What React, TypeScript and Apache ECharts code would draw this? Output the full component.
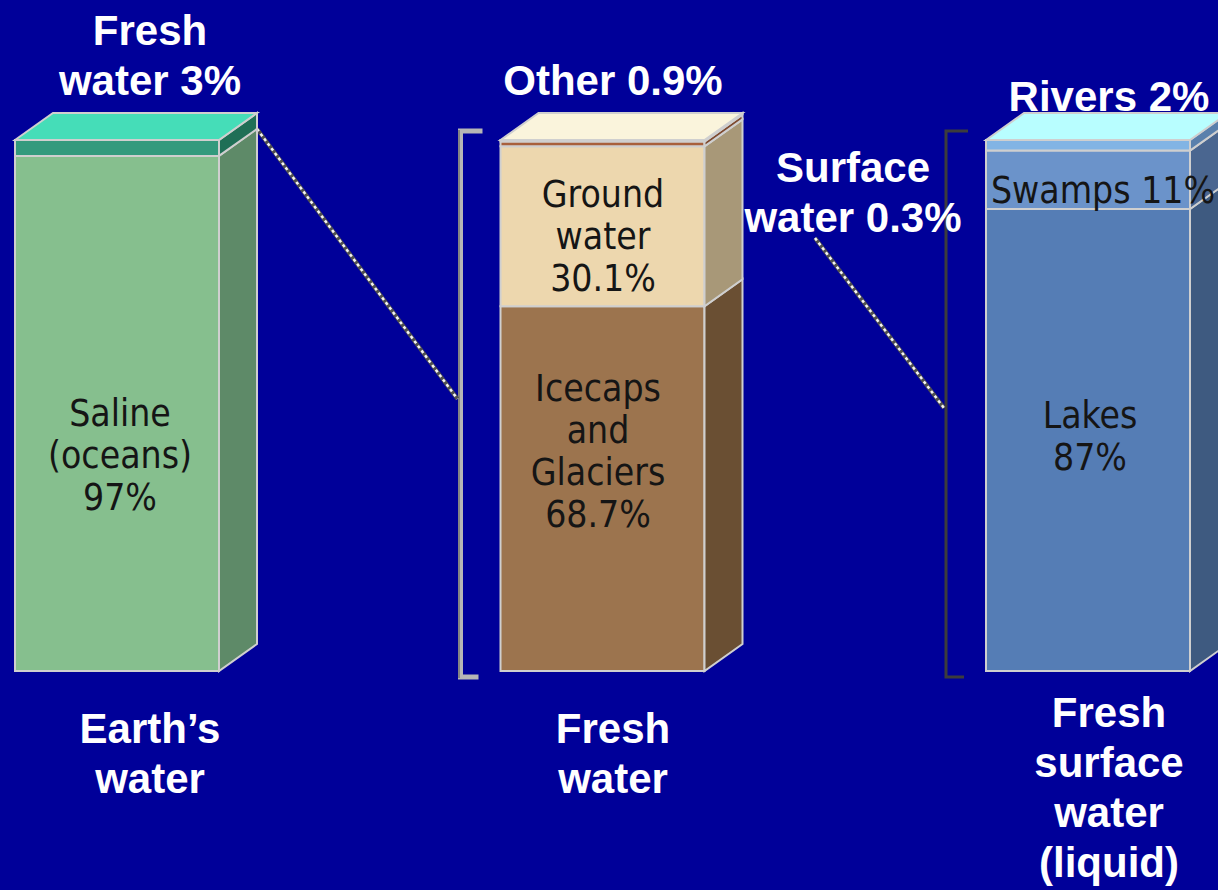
import React, { useEffect, useRef } from "react";
import * as echarts from "echarts";

// Columns
const barNames = ["Earth’s water", "Fresh water", "Fresh surface water (liquid)"];

// Earth's water, bottom to top
const earthWaterNames = ["Saline (oceans)", "Fresh water"];
const earthWaterValues = [97, 3];

// Fresh water, bottom to top
const freshWaterNames = ["Icecaps and Glaciers", "Ground water", "Other", "Surface water"];
const freshWaterValues = [68.7, 30.1, 0.9, 0.3];

// Fresh surface water (liquid), bottom to top
const surfaceWaterNames = ["Lakes", "Swamps", "Rivers"];
const surfaceWaterValues = [87, 11, 2];

// Face colours per segment: front, side, top
const earthWaterColors = [
  { front: "#86BF8E", side: "#5E8A68", top: "#A8D8B0" },
  { front: "#339A7D", side: "#1F6F56", top: "#45DDB8" },
];
const freshWaterColors = [
  { front: "#9C744E", side: "#6A4F33", top: "#B8906A" },
  { front: "#EDD7AE", side: "#A89878", top: "#F5E6C8" },
  { front: "#A8603C", side: "#7E4A30", top: "#C07A55" },
  { front: "#F3EBCF", side: "#D8CCAA", top: "#FAF4DC" },
];
const surfaceWaterColors = [
  { front: "#557DB5", side: "#3E5A80", top: "#7FA2D0" },
  { front: "#6B93CA", side: "#4A6690", top: "#90B4E0" },
  { front: "#82B4E4", side: "#5A80AC", top: "#B8FEFF" },
];

const columns = [
  { names: earthWaterNames, values: earthWaterValues, colors: earthWaterColors },
  { names: freshWaterNames, values: freshWaterValues, colors: freshWaterColors },
  { names: surfaceWaterNames, values: surfaceWaterValues, colors: surfaceWaterColors },
];

// Geometry of the extruded boxes
const HALF = 102;
const DX = 38;
const DY = -27;
const EDGE = "#CFCFCF";
const BRACKET_GAP = 40;

const BG = "#000099";
const TITLE_FONT = "'Liberation Sans', Arial, sans-serif";
const INNER_FONT = "'DejaVu Sans Condensed', 'DejaVu Sans', Verdana, sans-serif";

// Stack segments: [column, from, to, isTop]
const segments: any[] = [];
const segmentStyles: any[] = [];
columns.forEach((col, ci) => {
  let acc = 0;
  col.values.forEach((v, si) => {
    const lo = acc;
    acc += v;
    segments.push({
      name: col.names[si],
      value: [ci, lo, acc, si === col.values.length - 1 ? 1 : 0],
    });
    segmentStyles.push(col.colors[si]);
  });
});

// Brackets drawn left of a column, optionally linked to a level of another column
const brackets = [
  { column: 1, from: [0, earthWaterValues[0]], color: "#B6B6B6", shade: "#858585", width: 5 },
  { column: 2, from: null, color: "#3C3C3C", shade: null, width: 3 },
];

function dottedLink(x1: number, y1: number, x2: number, y2: number, z?: number) {
  return [
    {
      type: "line",
      z,
      shape: { x1, y1, x2, y2 },
      style: { stroke: "#505050", lineWidth: 4 },
    },
    {
      type: "line",
      z: z === undefined ? undefined : z + 1,
      shape: { x1, y1, x2, y2 },
      style: { stroke: "#F4F4F4", lineWidth: 2.5, lineDash: [3, 3] },
    },
  ];
}

function renderSegment(params: any, api: any) {
  const bar = api.value(0);
  const lo = api.value(1);
  const hi = api.value(2);
  const isTop = api.value(3) === 1;
  const st = segmentStyles[params.dataIndex];
  const p0 = api.coord([bar, lo]);
  const y1 = api.coord([bar, hi])[1];
  const cx = p0[0];
  const y0 = p0[1];
  const xl = cx - HALF;
  const xr = cx + HALF;
  const children: any[] = [
    {
      type: "rect",
      shape: { x: xl, y: y1, width: xr - xl, height: y0 - y1 },
      style: { fill: st.front, stroke: EDGE, lineWidth: 2 },
    },
    {
      type: "polygon",
      shape: { points: [[xr, y1], [xr + DX, y1 + DY], [xr + DX, y0 + DY], [xr, y0]] },
      style: { fill: st.side, stroke: EDGE, lineWidth: 2 },
    },
  ];
  if (isTop) {
    children.push({
      type: "polygon",
      shape: { points: [[xl, y1], [xl + DX, y1 + DY], [xr + DX, y1 + DY], [xr, y1]] },
      style: { fill: st.top, stroke: EDGE, lineWidth: 2 },
    });
  }
  return { type: "group", children };
}

function renderBracket(params: any, api: any) {
  const b = brackets[params.dataIndex];
  const bar = api.value(0);
  const base = api.coord([bar, 0]);
  const xb = base[0] - HALF - BRACKET_GAP;
  const yT = api.coord([bar, 100])[1] - 9;
  const yB = base[1] + 6;
  const children: any[] = [];
  const pts = [[xb + 22, yT], [xb, yT], [xb, yB], [xb + 18, yB]];
  children.push({
    type: "polyline",
    shape: { points: pts },
    style: { stroke: b.color, lineWidth: b.width, fill: null },
  });
  if (b.shade) {
    children.push({
      type: "polyline",
      shape: { points: [[xb - 1.5, yT - 1], [xb - 1.5, yB + 1]] },
      style: { stroke: b.shade, lineWidth: 2, fill: null },
    });
  }
  if (b.from) {
    const src = api.coord([b.from[0], b.from[1]]);
    const sx = src[0] + HALF + DX;
    const sy = src[1] + DY;
    const ex = xb - 3;
    const ey = (yT + yB) / 2 - 5;
    children.push(...dottedLink(sx, sy, ex, ey));
  }
  return { type: "group", children };
}

function titleText(text: string, x: number, y: number) {
  return {
    type: "text",
    z: 100,
    x,
    y,
    style: {
      text,
      fill: "#FFFFFF",
      fontFamily: TITLE_FONT,
      fontWeight: "bold",
      fontSize: 42,
      lineHeight: 50,
      align: "center",
      verticalAlign: "middle",
    },
  };
}

function innerText(text: string, x: number, y: number) {
  return {
    type: "text",
    z: 100,
    x,
    y,
    style: {
      text,
      fill: "#151515",
      fontFamily: INNER_FONT,
      fontSize: 37,
      lineHeight: 42,
      align: "center",
      verticalAlign: "middle",
    },
  };
}

export default function App() {
  const ref = useRef<HTMLDivElement>(null);

  useEffect(() => {
    if (!ref.current) return;
    const chart = echarts.init(ref.current, undefined, { renderer: "svg" });
    chart.setOption({
      animation: false,
      backgroundColor: BG,
      grid: { left: 117, right: 130, top: 140, bottom: 219 },
      xAxis: {
        type: "category",
        data: barNames,
        boundaryGap: false,
        show: false,
      },
      yAxis: { type: "value", min: 0, max: 100, show: false },
      series: [
        {
          type: "custom",
          name: "brackets",
          clip: false,
          z: 1,
          renderItem: renderBracket,
          data: brackets.map((b) => [b.column]),
        },
        {
          type: "custom",
          name: "water",
          clip: false,
          z: 2,
          renderItem: renderSegment,
          data: segments,
        },
      ],
      graphic: [
        // link from the surface-water label to the last column
        ...dottedLink(815, 238, 944, 408, 50),
        titleText("Fresh\nwater 3%", 150, 55),
        titleText("Other 0.9%", 613, 80),
        titleText("Rivers 2%", 1109, 96),
        titleText("Surface\nwater 0.3%", 853, 192),
        titleText("Earth’s\nwater", 150, 753),
        titleText("Fresh\nwater", 613, 753),
        titleText("Fresh\nsurface\nwater\n(liquid)", 1109, 787),
        innerText("Saline\n(oceans)\n97%", 120, 455),
        innerText("Ground\nwater\n30.1%", 603, 236),
        innerText("Icecaps\nand\nGlaciers\n68.7%", 598, 451),
        innerText("Swamps 11%", 1103, 190),
        innerText("Lakes\n87%", 1090, 436),
      ],
    });
    return () => chart.dispose();
  }, []);

  return (
    <div
      ref={ref}
      style={{ position: "fixed", left: 0, top: 0, width: 1218, height: 890 }}
    />
  );
}
